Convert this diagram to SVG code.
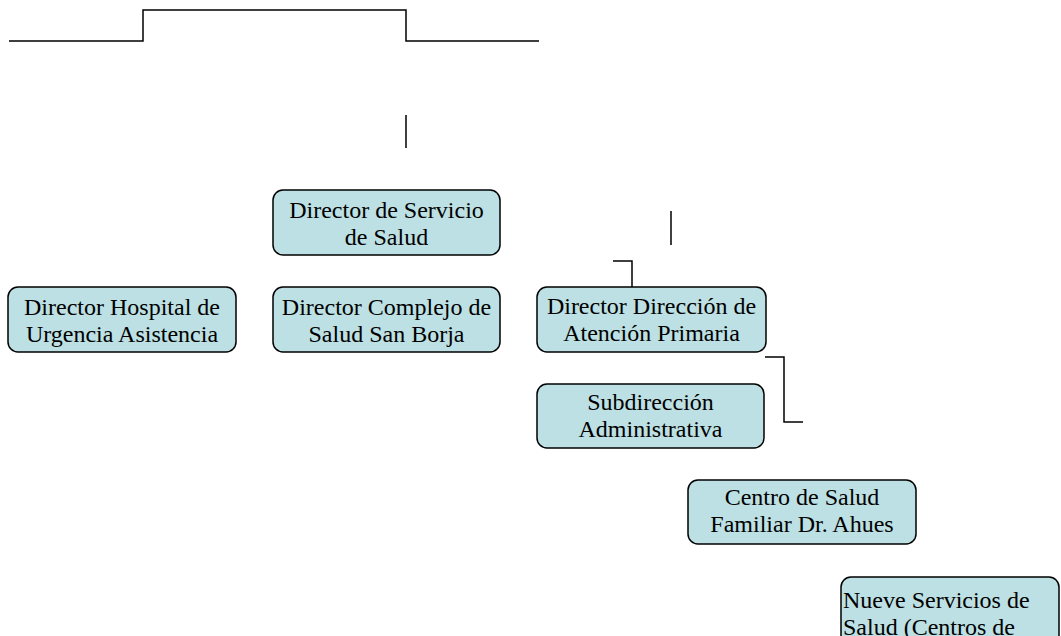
<svg xmlns="http://www.w3.org/2000/svg" width="1061" height="636" viewBox="0 0 1061 636">
<style>
.box{fill:#bce0e3;stroke:#000;stroke-width:1.5}
.t{font-family:"Liberation Serif","Times New Roman",serif;font-size:24px;fill:#000;text-anchor:middle}
.tl{font-family:"Liberation Serif","Times New Roman",serif;font-size:24px;fill:#000;text-anchor:start}
.c{fill:none;stroke:#000;stroke-width:1.5}
</style>
<rect width="1061" height="636" fill="#fff"/>
<g id="connectors">
<polyline class="c" points="9,41 143,41 143,10 406,10 406,41 539,41"/>
<line class="c" x1="406" y1="115" x2="406" y2="148"/>
<line class="c" x1="671" y1="211" x2="671" y2="245"/>
<polyline class="c" points="613,261 632,261 632,287"/>
<polyline class="c" points="765,357 784,357 784,422 803,422"/>
</g>
<g id="n_director_servicio">
<rect class="box" x="273" y="190" width="227" height="65" rx="10"/>
<text class="t" x="386.5" y="218">Director de Servicio</text>
<text class="t" x="386.5" y="245">de Salud</text>
</g>
<g id="n_hospital">
<rect class="box" x="8" y="287" width="228" height="65" rx="10"/>
<text class="t" x="122" y="315">Director Hospital de</text>
<text class="t" x="122" y="342">Urgencia Asistencia</text>
</g>
<g id="n_complejo">
<rect class="box" x="273" y="287" width="227" height="65" rx="10"/>
<text class="t" x="386.5" y="315">Director Complejo de</text>
<text class="t" x="386.5" y="342">Salud San Borja</text>
</g>
<g id="n_direccion_ap">
<rect class="box" x="537" y="287" width="229" height="65" rx="10"/>
<text class="t" x="651.5" y="314">Director Dirección de</text>
<text class="t" x="651.5" y="341">Atención Primaria</text>
</g>
<g id="n_subdireccion">
<rect class="box" x="537" y="384" width="227" height="64" rx="10"/>
<text class="t" x="650.5" y="410">Subdirección</text>
<text class="t" x="650.5" y="437">Administrativa</text>
</g>
<g id="n_centro">
<rect class="box" x="688" y="480" width="228" height="64" rx="10"/>
<text class="t" x="802" y="505">Centro de Salud</text>
<text class="t" x="802" y="532">Familiar Dr. Ahues</text>
</g>
<g id="n_nueve">
<rect class="box" x="841" y="577" width="218" height="80" rx="10"/>
<text class="tl" x="843" y="608">Nueve Servicios de</text>
<text class="tl" x="843" y="635">Salud (Centros de</text>
</g>
</svg>
